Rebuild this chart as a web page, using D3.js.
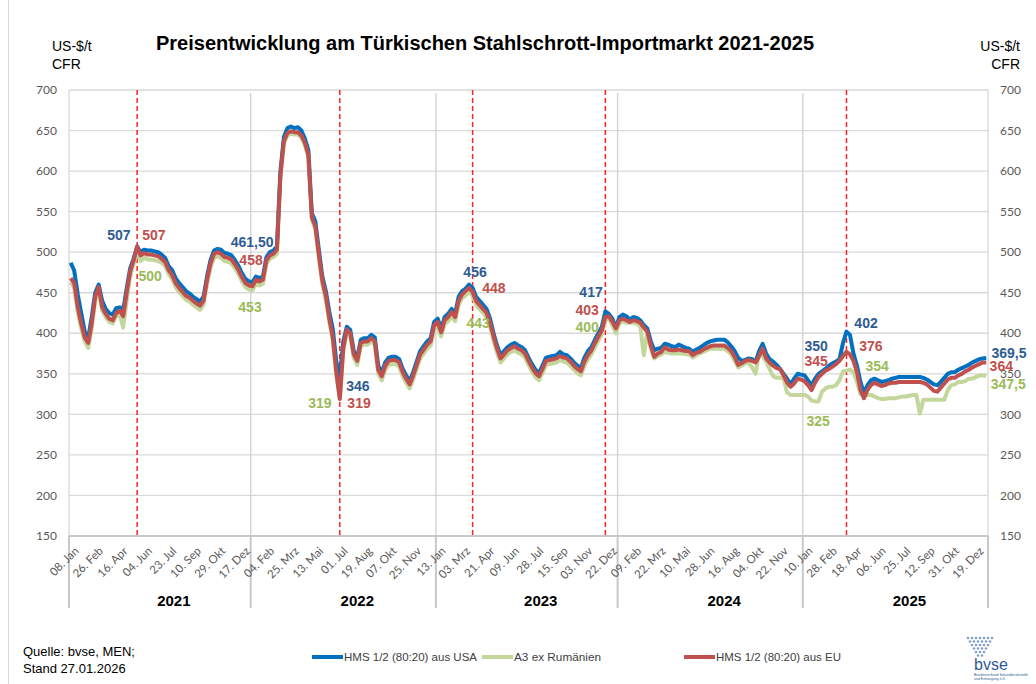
<!DOCTYPE html>
<html>
<head>
<meta charset="utf-8">
<script src="https://cdn.jsdelivr.net/npm/d3@7"></script>
<style>
  body { margin: 0; background: #fff; }
  svg { display: block; }
</style>
</head>
<body>
<script>
// weekly prices, index 0 = 08. Jan 2021 ... 262 = last week 2025
const usa = [487,477,448,425,402,394,420,450,460,440,430,425,423,431,432,428,455,480,492,507,
  500,503,502,502,501,500,497,493,483,478,468,462,457,452,449,445,442,439,445,470,
  490,502,504,503,499,498,496,490,483,474,467,464,463,470,468,470,494,500,502,507,
  600,642,653,655,653,654,650,640,626,548,538,503,470,452,426,405,365,346,390,408,
  404,378,370,392,394,394,398,395,360,351,364,370,371,371,368,356,348,341,352,365,
  378,384,390,394,414,418,405,420,424,430,424,445,452,455,460,456,445,440,435,430,
  418,400,385,373,378,383,386,388,385,383,379,370,362,355,351,360,370,371,372,373,
  377,374,373,369,364,360,357,370,378,383,392,400,408,427,424,418,407,420,423,421,
  417,420,419,416,410,406,390,379,381,382,387,386,384,383,386,384,382,381,377,380,
  382,385,388,390,391,392,392,392,389,384,378,370,366,367,369,368,365,378,387,375,
  368,365,361,356,350,344,337,344,350,349,348,342,336,344,350,353,356,360,363,365,
  368,388,402,398,375,360,340,326,336,342,344,342,340,341,342,344,345,346,346,346,
  346,346,346,346,345,343,340,337,336,340,345,350,352,352,355,357,359,361,364,366,
  368,369,369.5];
const romania = [463,456,426,406,390,382,406,440,452,428,420,414,412,421,424,407,440,470,486,500,
  489,493,491,491,490,489,487,483,473,467,457,451,446,441,439,435,432,429,435,461,
  481,493,495,493,489,488,486,480,473,464,457,454,453,461,459,461,486,492,494,498,
  592,634,644,646,645,645,641,632,617,540,528,492,460,441,414,390,348,319,378,401,
  396,369,361,384,386,386,390,386,350,342,355,361,362,362,359,347,339,332,343,356,
  369,375,381,385,405,409,396,411,415,421,415,435,443,447,451,446,435,430,425,420,
  408,391,376,364,369,374,377,379,376,374,370,361,353,346,342,351,361,362,363,364,
  367,365,364,360,355,351,348,360,368,374,383,391,399,416,418,410,400,412,415,413,
  413,413,412,408,373,402,381,369,372,374,377,376,375,375,375,375,374,374,370,373,
  375,377,379,381,381,381,381,381,378,374,366,358,360,363,363,358,350,376,372,365,
  356,347,345,345,344,327,324,324,324,324,324,322,317,316,316,328,332,334,334,336,
  342,353,354,355,352,340,325,323,324,324,322,320,319,319,320,320,320,321,322,322,
  323,324,324,301,318,318,318,318,318,318,318,330,336,337,340,340,341,344,344,346,
  348,348,347.5];
const eu = [468,462,432,412,395,388,412,445,457,432,424,418,416,425,428,421,450,476,490,507,
  496,499,497,497,496,495,492,488,478,472,462,456,451,446,444,440,437,434,440,466,
  486,498,500,498,494,493,491,485,478,469,462,459,458,466,464,466,490,496,498,503,
  595,637,647,649,648,648,644,635,620,543,532,497,465,446,418,395,352,319,382,405,
  400,374,366,388,390,390,394,390,355,347,360,366,367,367,364,352,344,337,348,361,
  374,380,386,390,410,414,401,416,420,426,420,440,448,452,456,451,440,435,430,425,
  413,396,381,369,374,379,382,384,381,379,375,366,358,351,347,356,366,367,368,369,
  372,370,369,365,360,356,353,365,373,379,388,396,404,420,421,414,406,416,418,416,
  414,416,415,413,407,402,385,371,375,377,383,380,379,379,380,379,378,378,373,376,
  377,380,382,384,385,385,385,385,382,378,371,361,363,366,367,366,364,372,381,369,
  364,360,357,356,348,339,334,338,344,343,341,336,330,339,346,350,354,356,359,362,
  366,372,377,374,366,352,330,320,330,336,339,337,335,336,338,339,339,340,340,340,
  340,340,340,340,339,337,333,329,328,333,338,343,345,345,348,350,353,355,358,360,
  362,364,364];

// every 7th week is labelled on the axis
const tickLabels = ["08. Jan","26. Feb","16. Apr","04. Jun","23. Jul","10. Sep","29. Okt","17. Dez",
  "04. Feb","25. Mrz","13. Mai","01. Jul","19. Aug","07. Okt","25. Nov",
  "13. Jan","03. Mrz","21. Apr","09. Jun","28. Jul","15. Sep","03. Nov","22. Dez",
  "09. Feb","22. Mrz","10. Mai","28. Jun","16. Aug","04. Okt","22. Nov",
  "10. Jan","28. Feb","18. Apr","06. Jun","25. Jul","12. Sep","31. Okt","19. Dez"];
const years = ["2021","2022","2023","2024","2025"];
const yearStart = [0, 52, 105, 157, 210, 263]; // first week index of each year
const markers = [19, 77, 115, 153, 222]; // red dashed lines
const yTicks = [150,200,250,300,350,400,450,500,550,600,650,700];

// value labels: [text, series, week, value position]
const notes = [
  ["507","usa",13.8,521],["507","eu",23.8,521],["500","ro",22.7,471],
  ["461,50","usa",51.9,513],["458","eu",51.6,490],["453","ro",51.3,432],
  ["319","ro",71.3,314],["346","usa",82.2,335],["319","eu",82.5,314],
  ["456","usa",115.7,476],["448","eu",121.1,456],["443","ro",116.6,413],
  ["417","usa",148.9,451],["403","eu",147.8,429],["400","ro",147.8,407],
  ["350","usa",213.3,384],["345","eu",213.3,366],["325","ro",213.9,292],
  ["402","usa",227.6,412],["376","eu",229,384],["354","ro",230.8,360],
  ["369,5","usa",268.5,376],["364","eu",266.3,360],["347,5","ro",268.3,337.5]
];

const W = 1036, H = 684;
const plotL = 69, plotR = 988, plotT = 90, plotB = 536;
const lineCol = {usa: "#0070c0", eu: "#c0504d", ro: "#c3d69b"};
const noteCol = {usa: "#2f5b93", eu: "#c0504d", ro: "#9bbb59"};
const font = "'Liberation Sans', Arial, sans-serif";
const tickFont = "Lato, 'Open Sans', sans-serif";

const svg = d3.select("body").append("svg")
  .attr("width", W).attr("height", H);

const x = d3.scaleLinear().domain([-0.5, 262.5]).range([plotL, plotR]);
const y = d3.scaleLinear().domain([150, 700]).range([plotB, plotT]);

// left edge of the chart frame
svg.append("line").attr("x1", 8.5).attr("x2", 8.5).attr("y1", 0).attr("y2", H)
  .attr("stroke", "#d9d9d9");

// horizontal grid
svg.append("g").selectAll("line").data(yTicks).join("line")
  .attr("x1", plotL).attr("x2", plotR)
  .attr("y1", d => y(d)).attr("y2", d => y(d))
  .attr("stroke", "#d9d9d9").attr("stroke-width", 1.3);

// year separators inside the plot
svg.append("g").selectAll("line").data(yearStart.slice(1, -1)).join("line")
  .attr("x1", d => x(d - 0.5)).attr("x2", d => x(d - 0.5))
  .attr("y1", plotT + 3).attr("y2", plotB)
  .attr("stroke", "#d0d0d0").attr("stroke-width", 1.3);

// plot border
svg.append("line").attr("x1", plotL).attr("x2", plotL).attr("y1", plotT).attr("y2", plotB)
  .attr("stroke", "#d9d9d9").attr("stroke-width", 1.3);
svg.append("line").attr("x1", plotR).attr("x2", plotR).attr("y1", plotT).attr("y2", plotB)
  .attr("stroke", "#d9d9d9").attr("stroke-width", 1.3);

// bottom axis and group dividers below it
svg.append("line").attr("x1", plotL).attr("x2", plotR).attr("y1", plotB).attr("y2", plotB)
  .attr("stroke", "#c8c8c8").attr("stroke-width", 2);
svg.append("g").selectAll("line").data(yearStart).join("line")
  .attr("x1", d => x(d - 0.5)).attr("x2", d => x(d - 0.5))
  .attr("y1", plotB).attr("y2", 608)
  .attr("stroke", "#c8c8c8").attr("stroke-width", 2);

// y tick labels both sides
svg.append("g").selectAll("text").data(yTicks).join("text")
  .attr("x", 57).attr("y", d => y(d)).attr("dy", "0.35em")
  .attr("text-anchor", "end").attr("font-family", tickFont).attr("font-size", 12)
  .attr("fill", "#595959").text(d => d);
svg.append("g").selectAll("text").data(yTicks).join("text")
  .attr("x", 1000).attr("y", d => y(d)).attr("dy", "0.35em")
  .attr("font-family", tickFont).attr("font-size", 12)
  .attr("fill", "#595959").text(d => d);

// x tick labels (rotated)
svg.append("g").selectAll("text").data(tickLabels).join("text")
  .attr("transform", (d, i) => "translate(" + (x(i * 7) + 3) + "," + 546 + ") rotate(-45)")
  .attr("text-anchor", "end").attr("dy", "0.7em")
  .attr("font-family", tickFont).attr("font-size", 11.5)
  .attr("fill", "#595959").text(d => d);

// year labels
svg.append("g").selectAll("text").data(years).join("text")
  .attr("x", (d, i) => (x(yearStart[i] - 0.5) + x(yearStart[i + 1] - 0.5)) / 2 + 14)
  .attr("y", 606).attr("text-anchor", "middle")
  .attr("font-family", font).attr("font-weight", "bold").attr("font-size", 15)
  .text(d => d);

// red dashed markers
svg.append("g").selectAll("line").data(markers).join("line")
  .attr("x1", d => x(d)).attr("x2", d => x(d))
  .attr("y1", plotT).attr("y2", plotB)
  .attr("stroke", "#ff2020").attr("stroke-width", 1.5)
  .attr("stroke-dasharray", "5,3");

// price lines
const line = d3.line().x((d, i) => x(i)).y(d => y(d));
[["ro", romania], ["usa", usa], ["eu", eu]].forEach(s => {
  svg.append("path").attr("d", line(s[1]))
    .attr("fill", "none").attr("stroke", lineCol[s[0]])
    .attr("stroke-width", 4).attr("stroke-linejoin", "round");
});

// value labels
svg.append("g").selectAll("text").data(notes).join("text")
  .attr("x", d => x(d[2])).attr("y", d => y(d[3])).attr("dy", "0.35em")
  .attr("text-anchor", "middle")
  .attr("font-family", font).attr("font-weight", "bold").attr("font-size", 14)
  .attr("fill", d => noteCol[d[1]]).text(d => d[0]);

// title and units
svg.append("text").attr("x", 485).attr("y", 50).attr("text-anchor", "middle")
  .attr("font-family", font).attr("font-weight", "bold").attr("font-size", 20)
  .text("Preisentwicklung am Türkischen Stahlschrott-Importmarkt 2021-2025");
[[52, "start"], [1020, "end"]].forEach(p => {
  svg.append("text").attr("x", p[0]).attr("y", 51).attr("text-anchor", p[1])
    .attr("font-family", font).attr("font-size", 14).text("US-$/t");
  svg.append("text").attr("x", p[0]).attr("y", 69).attr("text-anchor", p[1])
    .attr("font-family", font).attr("font-size", 14).text("CFR");
});

// legend
const legend = [["usa", "HMS 1/2 (80:20) aus USA", 312, 133], ["ro", "A3 ex Rumänien", 482, 87], ["eu", "HMS 1/2 (80:20) aus EU", 684, 125]];
legend.forEach(l => {
  svg.append("line").attr("x1", l[2]).attr("x2", l[2] + 31).attr("y1", 657).attr("y2", 657)
    .attr("stroke", lineCol[l[0]]).attr("stroke-width", 4);
  svg.append("text").attr("x", l[2] + 32).attr("y", 661)
    .attr("font-family", font).attr("font-size", 11).attr("fill", "#404040")
    .attr("textLength", l[3]).attr("lengthAdjust", "spacingAndGlyphs").text(l[1]);
});

// source
svg.append("text").attr("x", 23).attr("y", 656).attr("font-family", font).attr("font-size", 13)
  .text("Quelle: bvse, MEN;");
svg.append("text").attr("x", 23).attr("y", 673).attr("font-family", font).attr("font-size", 13)
  .text("Stand 27.01.2026");

// bvse logo (simplified)
const logo = svg.append("g").attr("transform", "translate(960,636)");
for (let r = 0; r < 6; r++) {
  for (let c = 0; c < 7 - r; c++) {
    logo.append("circle").attr("cx", 8 + c * 4 + r * 2).attr("cy", 2 + r * 3.5).attr("r", 1.3)
      .attr("fill", "#7f9fc9");
  }
}
logo.append("text").attr("x", 14).attr("y", 34).attr("font-family", font).attr("font-size", 16)
  .attr("fill", "#2f5b93").text("bvse");
logo.append("text").attr("x", 14).attr("y", 40).attr("font-family", font).attr("font-size", 3.5)
  .attr("fill", "#2f5b93").text("Bundesverband Sekundärrohstoffe");
logo.append("text").attr("x", 14).attr("y", 44).attr("font-family", font).attr("font-size", 3.5)
  .attr("fill", "#2f5b93").text("und Entsorgung e.V.");
</script>
</body>
</html>
